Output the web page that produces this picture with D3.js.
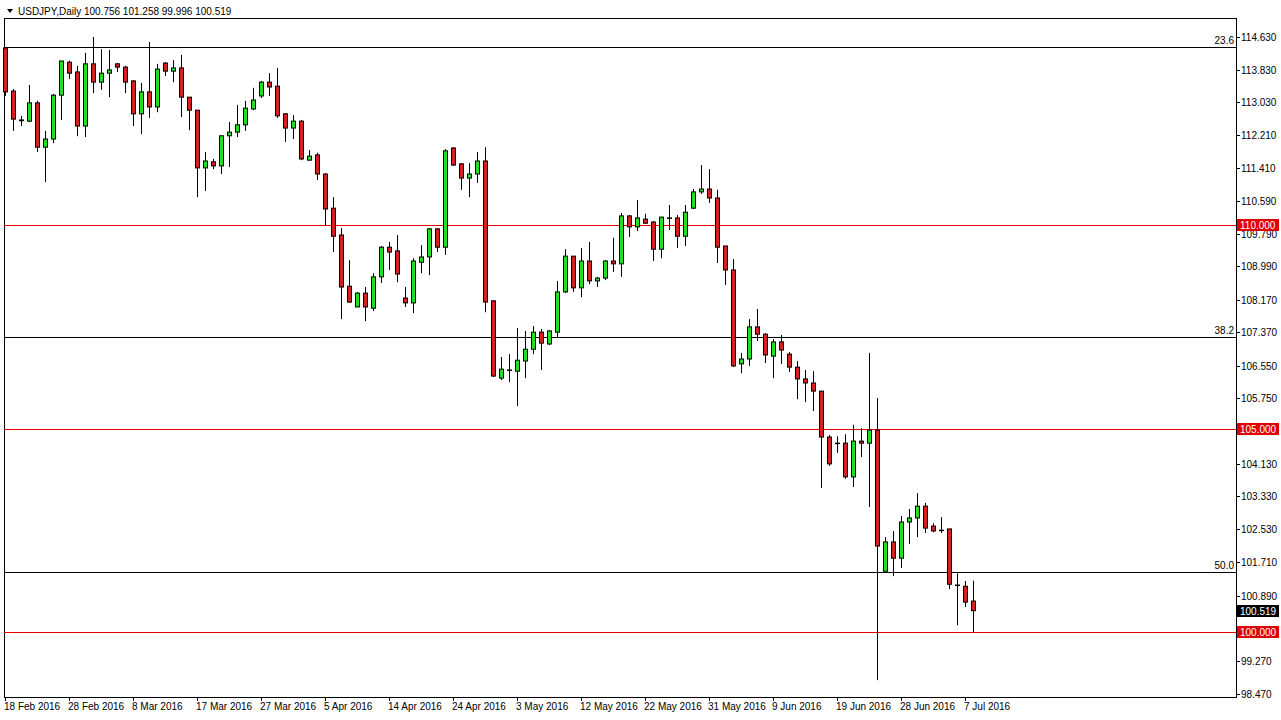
<!DOCTYPE html>
<html>
<head>
<meta charset="utf-8">
<script src="https://cdn.jsdelivr.net/npm/d3@7"></script>
<style>
  body { margin: 0; background: #fff; }
  svg text { font-family: "Liberation Sans", Arial, sans-serif; font-size: 10px; }
</style>
</head>
<body>
<svg width="1281" height="720"></svg>
<script>
"use strict";

// OHLC, daily bars (Sun-Fri) from 18 Feb 2016
const opens = [114.36,113.30,112.57,112.56,113.01,111.92,112.12,113.20,114.01,113.77,112.44,113.97,113.52,113.74,113.97,113.89,113.55,112.74,113.28,112.91,
  113.99,113.79,113.87,113.15,112.83,111.41,111.56,111.46,112.20,112.29,112.47,112.86,113.18,113.52,113.42,112.74,112.39,112.56,111.60,111.73,
  111.26,110.42,109.76,108.50,107.99,108.33,107.96,108.73,109.46,109.37,108.21,108.09,109.09,109.22,109.91,109.46,111.90,111.51,111.16,111.26,
  111.58,108.14,106.24,106.44,106.41,106.66,106.95,107.37,107.08,107.37,108.36,109.24,108.46,109.12,108.63,108.70,109.12,109.05,110.23,109.96,
  110.15,110.08,109.41,110.18,110.18,109.73,110.42,110.82,110.89,110.67,109.49,108.90,106.59,106.71,107.50,107.32,106.78,107.13,106.83,106.51,
  106.22,106.12,105.92,104.79,104.64,104.64,103.81,104.69,104.64,104.96,101.49,102.21,101.81,102.70,102.80,103.09,102.60,102.50,102.53,101.15,
  101.12,100.756];
const highs = [114.38,113.35,112.69,113.45,113.06,112.32,113.23,114.04,114.05,113.92,114.24,114.63,114.33,114.31,113.99,113.92,113.57,113.50,114.51,113.97,
  114.01,114.06,114.19,113.15,112.83,111.80,111.63,112.20,112.54,112.96,113.06,113.38,113.55,113.74,113.87,112.76,112.71,112.59,111.85,111.78,
  111.28,110.69,109.93,109.14,108.36,108.48,108.82,109.49,109.59,109.76,108.48,109.19,109.51,109.93,109.93,111.87,111.92,111.53,111.53,111.80,
  111.92,108.16,106.76,106.83,107.47,107.40,107.52,107.45,107.42,108.63,109.41,109.24,109.44,109.59,108.73,109.14,109.69,110.30,110.25,110.62,
  110.28,110.10,110.20,110.50,110.25,110.50,110.89,111.48,111.38,110.87,109.49,109.17,106.86,107.69,107.94,107.35,107.20,107.30,106.88,106.66,
  106.44,106.41,105.92,104.84,104.81,104.86,105.09,105.01,106.86,105.75,102.33,102.48,102.85,103.02,103.41,103.17,102.67,102.82,102.53,101.44,
  101.25,101.258];
const lows = [113.18,112.32,112.44,112.54,111.80,111.06,112.02,112.59,113.60,112.19,112.17,113.25,113.33,113.15,113.77,113.25,112.44,112.24,112.64,112.78,
  113.67,113.52,112.66,112.34,110.69,110.84,111.38,111.26,111.43,112.17,112.32,112.83,113.13,113.18,112.64,112.05,112.12,111.60,111.60,111.11,
  109.98,109.34,107.69,108.09,107.99,107.64,107.89,108.58,108.90,108.60,107.99,107.84,108.82,108.77,109.34,109.27,111.46,110.87,110.69,111.04,
  107.86,106.27,106.19,106.14,105.55,106.24,106.83,106.44,107.05,107.25,108.33,108.36,108.23,108.55,108.48,108.65,108.85,108.73,109.71,109.86,
  110.03,109.12,109.19,109.88,109.44,109.49,110.40,110.77,110.55,109.07,108.53,106.51,106.36,106.54,107.15,106.61,106.24,106.59,106.39,105.72,
  105.65,105.43,103.54,104.08,104.40,103.76,103.56,104.30,103.07,98.81,101.49,101.37,101.57,102.16,102.33,102.43,102.45,102.43,101.05,100.16,
  100.61,99.996];
const closes = [113.28,112.61,112.59,113.01,111.92,112.12,113.20,114.04,113.74,112.44,113.97,113.52,113.74,113.82,113.89,113.52,112.74,113.28,112.91,113.84,
  113.79,113.87,113.15,112.83,111.41,111.58,111.46,112.20,112.29,112.47,112.88,113.08,113.52,113.40,112.69,112.39,112.56,111.63,111.70,111.26,
  110.40,109.73,108.48,108.11,108.33,107.99,108.73,109.46,109.34,108.80,108.09,109.12,109.22,109.91,109.46,111.83,111.48,111.16,111.26,111.58,
  108.11,106.29,106.46,106.43,106.68,106.95,107.37,107.10,107.40,108.36,109.24,108.46,109.12,108.63,108.70,109.12,109.05,110.23,109.96,110.18,
  110.05,109.41,110.20,110.17,109.73,110.32,110.82,110.89,110.67,109.46,108.90,106.54,106.71,107.50,107.32,106.81,107.13,106.93,106.51,106.22,
  106.12,105.92,104.79,104.13,104.63,103.81,104.69,104.64,104.96,102.11,102.21,101.81,102.70,102.80,103.09,102.55,102.48,102.49,101.17,101.14,
  100.73,100.519];

const priceTicks = [114.630,113.830,113.030,112.210,111.410,110.590,109.790,108.990,108.170,107.370,106.550,105.750,104.130,103.330,102.530,101.710,100.890,99.270,98.470];
const roundLevels = [110.000, 105.000, 100.000];
const fibLevels = [114.38, 107.26, 101.47];
const fibLabels = ["23.6", "38.2", "50.0"];
const dateTickIdx = [0,8,16,24,32,40,48,56,64,72,80,88,96,104,112,120];

// trading calendar: every day except Saturday
const dates = d3.timeDay.range(new Date(2016, 1, 18), new Date(2016, 6, 9)).filter(d => d.getDay() !== 6);
const fmtDate = d3.timeFormat("%-d %b %Y");

const svg = d3.select("svg");
const plotL = 4, plotR = 1236, plotT = 18, plotB = 697;

const x = d3.scaleLinear().domain([0, 121]).range([5, 973]);
const y = d3.scaleLinear().domain([98.47, 114.63]).range([694, 37]);

// frame
svg.append("rect").attr("x", plotL + 0.5).attr("y", plotT + 0.5)
  .attr("width", plotR - plotL).attr("height", plotB - plotT)
  .attr("fill", "none").attr("stroke", "#000");

// title
svg.append("path").attr("d", "M7,9 L13,9 L10,13 Z").attr("fill", "#000");
svg.append("text").attr("x", 18).attr("y", 15).text("USDJPY,Daily  100.756 101.258 99.996 100.519");

// horizontal levels
svg.selectAll("line.round").data(roundLevels).enter().append("line")
  .attr("x1", plotL).attr("x2", plotR)
  .attr("y1", d => Math.round(y(d)) + 0.5).attr("y2", d => Math.round(y(d)) + 0.5)
  .attr("stroke", "#e00000");
svg.selectAll("line.fib").data(fibLevels).enter().append("line")
  .attr("x1", plotL).attr("x2", plotR)
  .attr("y1", d => Math.round(y(d)) + 0.5).attr("y2", d => Math.round(y(d)) + 0.5)
  .attr("stroke", "#000");
svg.selectAll("text.fib").data(fibLevels).enter().append("text")
  .attr("x", plotR - 2).attr("y", d => y(d) - 3).attr("text-anchor", "end")
  .text((d, i) => fibLabels[i]);

// candles
const bars = d3.range(opens.length);
const g = svg.append("g");
g.selectAll("line.wick").data(bars).enter().append("line")
  .attr("x1", i => Math.round(x(i)) + 0.5).attr("x2", i => Math.round(x(i)) + 0.5)
  .attr("y1", i => y(highs[i])).attr("y2", i => y(lows[i]))
  .attr("stroke", "#000");
g.selectAll("rect.body").data(bars).enter().append("rect")
  .attr("x", i => Math.round(x(i)) - 2 + 0.5)
  .attr("y", i => y(Math.max(opens[i], closes[i])))
  .attr("width", 4)
  .attr("height", i => Math.max(0.5, Math.abs(y(opens[i]) - y(closes[i]))))
  .attr("fill", i => closes[i] >= opens[i] ? "#22e022" : "#d81e1e")
  .attr("stroke", "#000").attr("stroke-width", 1);

// price axis
svg.selectAll("line.ptick").data(priceTicks).enter().append("line")
  .attr("x1", plotR).attr("x2", plotR + 4)
  .attr("y1", d => Math.round(y(d)) + 0.5).attr("y2", d => Math.round(y(d)) + 0.5)
  .attr("stroke", "#000");
svg.selectAll("text.ptick").data(priceTicks).enter().append("text")
  .attr("x", 1241).attr("y", d => y(d) + 4)
  .text(d => d.toFixed(3));

// level tags
function tag(v, fill) {
  svg.append("rect").attr("x", 1237).attr("y", Math.round(y(v)) - 6)
    .attr("width", 42).attr("height", 12).attr("fill", fill);
  svg.append("text").attr("x", 1240).attr("y", Math.round(y(v)) + 4)
    .attr("fill", "#fff").text(v.toFixed(3));
}
roundLevels.forEach(v => tag(v, "#e00000"));
tag(closes[closes.length - 1], "#000");

// date axis
svg.selectAll("line.dtick").data(dateTickIdx).enter().append("line")
  .attr("x1", i => Math.round(x(i)) + 0.5).attr("x2", i => Math.round(x(i)) + 0.5)
  .attr("y1", plotB).attr("y2", plotB + 4).attr("stroke", "#000");
svg.selectAll("text.dtick").data(dateTickIdx).enter().append("text")
  .attr("x", i => x(i) - 1).attr("y", 710)
  .text(i => fmtDate(dates[i]));
</script>
</body>
</html>
